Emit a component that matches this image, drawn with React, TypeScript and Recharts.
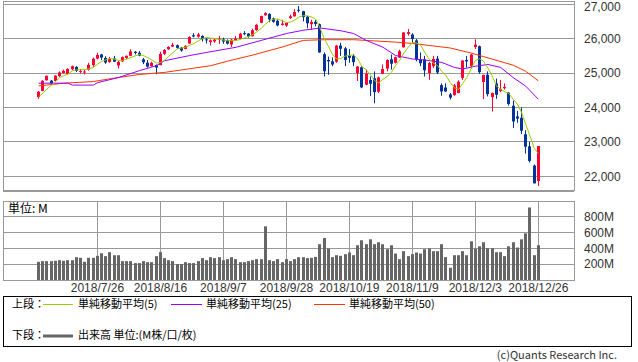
import { ComposedChart, Bar, Line, XAxis, YAxis, CartesianGrid } from 'recharts';

// x axis is in trading-day slots: 136 slots, first candle in slot 8 (2018/7/6), last in slot 127
const FIRST_SLOT = 8;
const SLOT_DOMAIN: [number, number] = [-0.5, 135.5];

const opens = [
  24300, 24480, 24790, 24780, 24770, 24910, 25000, 24980, 25110, 25180,
  25040, 25020, 25100, 25230, 25420, 25540, 25440, 25320, 25420, 25220,
  25340, 25440, 25500, 25620, 25590, 25400, 25300, 25200, 25230, 25230,
  25560, 25690, 25770, 25810, 25740, 25700, 25860, 26100, 26060, 26080,
  25980, 25900, 25920, 25960, 25980, 25950, 25830, 25950, 26000, 26160,
  26150, 26070, 26250, 26460, 26680, 26720, 26590, 26520, 26400, 26380,
  26600, 26650, 26840, 26800, 26640, 26420, 26490, 26420, 25550, 25380,
  25340, 25330, 25800, 25720, 25500, 25500, 25000, 25170, 24660, 24800,
  24850, 24460, 24980, 25130, 25400, 25300, 25450, 25750, 26140, 26120,
  25950, 25400, 25400, 25000, 25200, 25420, 24650, 24580, 24380, 24360,
  24420, 24860, 25380, 25200, 25760, 25780, 24740, 24950, 24300, 24700,
  24480, 24560, 24430, 24050, 23740, 23700, 23220, 22870, 22310, 21860,
];
const highs = [
  24480, 24790, 24930, 24800, 24940, 25050, 25100, 25140, 25220, 25200,
  25120, 25100, 25300, 25450, 25590, 25560, 25490, 25470, 25500, 25350,
  25480, 25510, 25690, 25640, 25640, 25440, 25380, 25330, 25250, 25620,
  25700, 25780, 25880, 25830, 25760, 25810, 26070, 26160, 26170, 26100,
  26020, 25980, 26000, 26080, 26030, 25980, 25990, 26080, 26170, 26220,
  26160, 26290, 26420, 26670, 26770, 26740, 26610, 26560, 26550, 26470,
  26700, 26860, 26950, 26810, 26660, 26550, 26540, 26440, 25600, 25480,
  25460, 25820, 25880, 25760, 25700, 25550, 25200, 25200, 25100, 24900,
  25050, 24900, 25250, 25400, 25540, 25480, 25680, 26190, 26280, 26160,
  25990, 25600, 25500, 25320, 25500, 25500, 24700, 24700, 24420, 24680,
  24790, 25370, 25500, 25560, 25980, 25800, 24950, 25050, 24430, 24840,
  24800, 24700, 24450, 24200, 23900, 24000, 23340, 23000, 22340, 22880,
];
const lows = [
  24250, 24470, 24780, 24660, 24760, 24890, 24990, 24960, 25090, 25030,
  24990, 24960, 25070, 25180, 25400, 25380, 25270, 25300, 25320, 25130,
  25320, 25410, 25490, 25540, 25490, 25260, 25160, 25190, 24965, 25230,
  25520, 25680, 25760, 25700, 25620, 25690, 25850, 26040, 26030, 25920,
  25860, 25800, 25880, 25850, 25850, 25830, 25760, 25930, 25990, 26100,
  26030, 26060, 26230, 26450, 26670, 26480, 26460, 26360, 26380, 26340,
  26570, 26640, 26760, 26500, 26300, 26260, 26360, 25590, 24900, 24950,
  25200, 25300, 25500, 25200, 25300, 25200, 24770, 24560, 24650, 24330,
  24120, 24420, 24970, 25050, 25100, 25280, 25440, 25740, 26090, 25870,
  25340, 25200, 24900, 24800, 25150, 24970, 24340, 24450, 24230, 24340,
  24410, 24800, 25160, 25130, 25700, 24980, 24240, 24320, 23880, 24250,
  24440, 24520, 24050, 23400, 23550, 23230, 22660, 22400, 21790, 21710,
];
const closes = [
  24456, 24776, 24920, 24700, 24925, 25019, 25064, 25120, 25199, 25064,
  25058, 25044, 25241, 25415, 25527, 25451, 25307, 25415, 25333, 25327,
  25463, 25502, 25629, 25583, 25509, 25313, 25187, 25299, 25162, 25558,
  25669, 25758, 25822, 25733, 25656, 25790, 26049, 26064, 26124, 25986,
  25964, 25952, 25974, 25995, 25916, 25857, 25971, 25998, 26145, 26154,
  26062, 26246, 26405, 26657, 26743, 26562, 26492, 26385, 26439, 26458,
  26651, 26774, 26828, 26627, 26447, 26487, 26430, 25599, 25053, 25340,
  25250, 25798, 25706, 25380, 25444, 25317, 25191, 24583, 24985, 24689,
  24443, 24875, 25116, 25380, 25271, 25462, 25635, 26181, 26191, 25989,
  25387, 25287, 25081, 25290, 25413, 25018, 24466, 24465, 24286, 24640,
  24749, 25366, 25339, 25538, 25827, 25027, 24947, 24389, 24423, 24370,
  24527, 24597, 24101, 23592, 23675, 23324, 22859, 22445, 21792, 22878,
];
// 5-day simple moving average
const ma5 = [
  24313, 24414, 24537, 24642, 24755, 24868, 24926, 24966, 25065, 25093,
  25101, 25097, 25121, 25164, 25257, 25336, 25388, 25423, 25407, 25367,
  25369, 25408, 25451, 25501, 25537, 25507, 25444, 25378, 25294, 25304,
  25375, 25489, 25594, 25708, 25728, 25752, 25810, 25858, 25937, 26003,
  26037, 26018, 26000, 25974, 25960, 25939, 25943, 25947, 25977, 26025,
  26066, 26121, 26202, 26305, 26423, 26523, 26572, 26568, 26524, 26467,
  26485, 26541, 26630, 26668, 26665, 26633, 26564, 26318, 26003, 25782,
  25534, 25408, 25429, 25495, 25516, 25529, 25408, 25183, 25104, 24953,
  24778, 24715, 24822, 24901, 25017, 25221, 25373, 25586, 25748, 25892,
  25877, 25807, 25587, 25407, 25292, 25218, 25054, 24930, 24730, 24575,
  24521, 24701, 24876, 25126, 25364, 25419, 25336, 25146, 24923, 24631,
  24531, 24461, 24404, 24237, 24098, 23858, 23510, 23179, 22819, 22660,
];
// volume, millions
const volumes = [
  230, 239, 239, 239, 243, 251, 243, 251, 251, 289,
  281, 230, 281, 281, 306, 339, 302, 352, 314, 314,
  239, 239, 239, 214, 214, 239, 226, 226, 302, 352,
  277, 251, 239, 201, 201, 226, 214, 214, 239, 277,
  251, 289, 277, 289, 251, 264, 289, 264, 226, 226,
  239, 251, 264, 264, 679, 251, 239, 264, 226, 264,
  239, 264, 289, 289, 277, 281, 293, 453, 532, 398,
  289, 314, 306, 327, 348, 314, 440, 503, 453, 515,
  453, 478, 453, 390, 440, 335, 264, 365, 302, 327,
  348, 335, 390, 398, 365, 365, 453, 289, 155, 314,
  314, 365, 314, 490, 398, 427, 478, 402, 402, 352,
  352, 302, 427, 478, 411, 515, 591, 918, 314, 440,
];

// 25 / 50 day averages at these slots
const ma25Slots = [8, 15, 16, 21, 22, 27, 32, 36, 38, 40, 44, 48, 55, 61, 67, 71, 75, 80, 83, 86, 90, 93, 97, 100, 104, 107, 109, 112, 115, 118, 121, 124, 127];
const ma25Values = [24706, 24706, 24650, 24650, 24720, 24870, 25070, 25215, 25360, 25410, 25510, 25600, 25750, 25950, 26150, 26245, 26310, 26230, 26150, 25950, 25750, 25510, 25410, 25380, 25310, 25165, 25118, 25200, 25250, 25165, 24870, 24620, 24240];
const ma50Slots = [8, 14, 21, 25, 32, 38, 44, 49, 53, 59, 66, 71, 76, 83, 88, 93, 97, 101, 106, 111, 116, 121, 124, 127];
const ma50Values = [24627, 24706, 24753, 24833, 24960, 25020, 25126, 25215, 25347, 25524, 25757, 25950, 25970, 25970, 25935, 25900, 25862, 25803, 25730, 25582, 25406, 25230, 25053, 24774];

const tickSlots = [22, 37, 52, 67, 82, 97, 112, 127];
const tickLabels = ['2018/7/26', '2018/8/16', '2018/9/7', '2018/9/28', '2018/10/19', '2018/11/9', '2018/12/3', '2018/12/26'];
const priceTicks = [22000, 23000, 24000, 25000, 26000, 27000];
const volumeTicks = [200, 400, 600, 800];

const UP = '#ff0033';
const DOWN = '#003399';
const GRID = '#999999';
const FONT = '"Noto Sans CJK JP", "DejaVu Sans", sans-serif';
const AXIS_FONT = '"Liberation Sans", Arial, sans-serif';

const rows = closes.map((close, k) => ({
  i: k + FIRST_SLOT,
  open: opens[k],
  high: highs[k],
  low: lows[k],
  close,
  ma5: ma5[k],
  vol: volumes[k],
}));
const ma25Data = ma25Slots.map((i, k) => ({ i, ma25: ma25Values[k] }));
const ma50Data = ma50Slots.map((i, k) => ({ i, ma50: ma50Values[k] }));

function Candle(props: any) {
  const { x, y, width, height, payload } = props;
  if (!payload || height == null) return null;
  const { open, close, high, low } = payload;
  const color = close >= open ? UP : DOWN;
  const top = Math.min(y, y + height);
  const h = Math.abs(height);
  const toY = (v: number) => (high === low ? top : top + ((high - v) / (high - low)) * h);
  const cx = Math.floor(x + width / 2);
  const bodyTop = toY(Math.max(open, close));
  const bodyH = Math.max(1, toY(Math.min(open, close)) - bodyTop);
  return (
    <g>
      <line x1={cx + 0.5} x2={cx + 0.5} y1={top} y2={top + h} stroke={color} strokeWidth={1} />
      <rect x={cx - 1} y={bodyTop} width={3} height={bodyH} fill={color} />
    </g>
  );
}

function VolumeBar(props: any) {
  const { x, y, width, height } = props;
  if (height == null) return null;
  const cx = Math.floor(x + width / 2);
  return <rect x={cx - 1} y={y} width={3} height={height} fill="#666666" />;
}

// price labels; the top one is nudged down so it stays inside the page
function PriceTick(props: any) {
  const { x, y, payload } = props;
  return (
    <text x={x} y={Math.max(y, 7)} dy="0.36em" fill="#333333" fontSize={12} fontFamily={AXIS_FONT} textAnchor="start">
      {Number(payload.value).toLocaleString('en-US')}
    </text>
  );
}

const axisTick = { fill: '#333333', fontSize: 12, fontFamily: AXIS_FONT, textAnchor: 'start' as const };

export default function App() {
  return (
    <div style={{ position: 'absolute', left: 0, top: 0, width: 638, height: 362, background: '#fff', fontFamily: FONT }}>
      <style>{`.recharts-cartesian-grid line { shape-rendering: crispEdges; } .recharts-surface { overflow: visible; }`}</style>

      {/* price panel */}
      <div style={{ position: 'absolute', left: 0, top: 0 }}>
        <ComposedChart width={638} height={191} data={rows} margin={{ top: 1, right: 0, bottom: 0, left: 3 }}>
          <CartesianGrid stroke={GRID} />
          <XAxis type="number" dataKey="i" domain={SLOT_DOMAIN} ticks={tickSlots} allowDataOverflow
            height={0} tick={false} axisLine={false} tickLine={false} />
          <YAxis orientation="right" domain={[21570, 27096]} ticks={priceTicks} allowDataOverflow width={64} interval={0}
            axisLine={false} tickLine={false} tickSize={0} tickMargin={10} tick={<PriceTick />} />
          <Bar dataKey={(d: any) => [d.low, d.high]} barSize={4} shape={Candle} isAnimationActive={false} />
          <Line data={ma50Data} dataKey="ma50" type="linear" stroke="#ff3300" strokeWidth={1} dot={false} isAnimationActive={false} />
          <Line data={ma25Data} dataKey="ma25" type="linear" stroke="#9900ff" strokeWidth={1} dot={false} isAnimationActive={false} />
          <Line dataKey="ma5" type="linear" stroke="#99cc00" strokeWidth={1} dot={false} isAnimationActive={false} />
        </ComposedChart>
      </div>

      {/* volume panel */}
      <div style={{ position: 'absolute', left: 0, top: 195 }}>
        <ComposedChart width={638} height={100} data={rows} margin={{ top: 6, right: 0, bottom: 0, left: 3 }}>
          <CartesianGrid stroke={GRID} />
          <XAxis type="number" dataKey="i" domain={SLOT_DOMAIN} ticks={tickSlots} allowDataOverflow interval={0}
            height={15} axisLine={false} tickLine={false} tickSize={0} tickMargin={3}
            tick={{ fill: '#333333', fontSize: 12, fontFamily: AXIS_FONT }}
            tickFormatter={(v: number) => tickLabels[tickSlots.indexOf(v)] ?? ''} />
          <YAxis orientation="right" domain={[0, 1000]} ticks={volumeTicks} allowDataOverflow width={64} interval={0}
            axisLine={false} tickLine={false} tickSize={0} tickMargin={10} tick={axisTick}
            tickFormatter={(v: number) => `${v}M`} />
          <Bar dataKey="vol" barSize={4} shape={VolumeBar} isAnimationActive={false} />
        </ComposedChart>
      </div>

      {/* frames, legend, credit */}
      <svg width={638} height={362} style={{ position: 'absolute', left: 0, top: 0, pointerEvents: 'none' }}>
        <g shapeRendering="crispEdges" fill="none">
          <rect x={3.5} y={1.5} width={571} height={189} stroke={GRID} />
          <rect x={3.5} y={201.5} width={571} height={79} stroke={GRID} />
          <rect x={3.5} y={296.5} width={628} height={50} stroke="#000" />
        </g>
        <text x={8} y={213} fontSize={12} fill="#000">単位: M</text>

        <g fontSize={11} fill="#000" dominantBaseline="middle">
          <text x={12} y={305}>上段：</text>
          <line x1={43} x2={73} y1={304.5} y2={304.5} stroke="#99cc00" />
          <text x={78} y={305}>単純移動平均(5)</text>
          <line x1={171} x2={202} y1={304.5} y2={304.5} stroke="#9900ff" />
          <text x={206} y={305}>単純移動平均(25)</text>
          <line x1={314} x2={345} y1={304.5} y2={304.5} stroke="#ff3300" />
          <text x={349} y={305}>単純移動平均(50)</text>

          <text x={12} y={336}>下段：</text>
          <line x1={43} x2={73} y1={336} y2={336} stroke="#666666" strokeWidth={3} />
          <text x={78} y={336}>出来高 単位:(M株/口/枚)</text>
        </g>
        <text x={617} y={359} fontSize={11} fill="#333" textAnchor="end">(c)Quants Research Inc.</text>
      </svg>
    </div>
  );
}
